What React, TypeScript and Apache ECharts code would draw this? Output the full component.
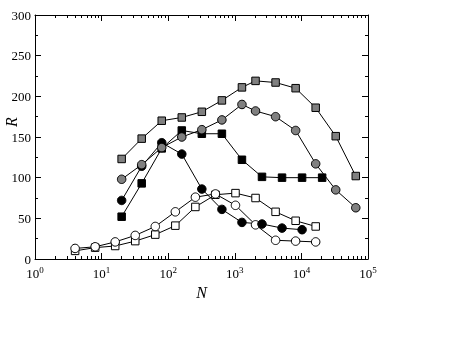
import React, { useEffect, useRef } from "react";
import * as echarts from "echarts";

const nOpen = [4, 8, 16, 32, 64, 128, 256, 512, 1024, 2048, 4096, 8192, 16384];
const rOpenSquare = [10, 14, 16, 22, 30, 41, 64, 79, 81, 75, 58, 47, 40];
const rOpenCircle = [13, 15, 21, 29, 40, 58, 76, 80, 66, 42, 23, 22, 21];

const nBlackCircle = [20, 40, 80, 160, 320, 640, 1280, 2560, 5120, 10240];
const rBlackCircle = [72, 114, 143, 129, 86, 61, 45, 43, 38, 36];

const nBlackSquare = [20, 40, 80, 160, 320, 640, 1280, 2560, 5120, 10240, 20480];
const rBlackSquare = [52, 93, 136, 158, 154, 154, 122, 101, 100, 100, 100];

const nGray = [20, 40, 80, 160, 320, 640, 1280, 2048, 4096, 8192, 16384, 32768, 65536];
const rGrayCircle = [98, 116, 137, 150, 159, 171, 190, 182, 175, 158, 117, 85, 63];
const rGraySquare = [123, 148, 170, 174, 181, 195, 211, 219, 217, 210, 186, 151, 102];

const xMajor = [1, 10, 100, 1000, 10000, 100000];
const yTicks = [0, 50, 100, 150, 200, 250, 300];

const minorX: number[] = [];
for (let d = 1; d < 100000; d *= 10) {
  for (let k = 2; k <= 9; k++) minorX.push(k * d);
}

const FONT = "'Liberation Serif', 'DejaVu Serif', serif";

const zip = (xs: number[], ys: number[]) => xs.map((x, i) => [x, ys[i]]);

export default function App() {
  const ref = useRef<HTMLDivElement>(null);
  useEffect(() => {
    const chart = echarts.init(ref.current!, null, { renderer: "svg" });
    const lineStyle = { color: "#000", width: 1 };
    const mk = (name: string, data: number[][], symbol: string, size: number, fill: string) => ({
      name,
      type: "line",
      data,
      symbol,
      symbolSize: size,
      showSymbol: true,
      lineStyle,
      itemStyle: { color: fill, borderColor: "#000", borderWidth: 1 },
      emphasis: { disabled: true },
    });
    const baseX = {
      type: "log",
      logBase: 10,
      min: 1,
      max: 100000,
      gridIndex: 0,
      splitLine: { show: false },
      axisLine: { show: true, lineStyle: { color: "#000", width: 1 } },
    };
    const baseY = {
      type: "value",
      min: 0,
      max: 300,
      interval: 50,
      splitLine: { show: false },
      axisLine: { show: true, lineStyle: { color: "#000", width: 1 } },
      axisTick: { show: true, inside: true, length: 6, lineStyle: { color: "#000" } },
      minorTick: { show: true, splitNumber: 2, length: 3, lineStyle: { color: "#000" } },
    };
    chart.setOption({
      animation: false,
      grid: { left: 35, right: 90, top: 15, bottom: 95, containLabel: false, outerBoundsMode: "none" },
      graphic: [
        {
          type: "text",
          x: 11,
          y: 122,
          rotation: Math.PI / 2,
          style: {
            text: "R",
            fontFamily: FONT,
            fontStyle: "italic",
            fontSize: 16,
            fill: "#000",
            align: "center",
            verticalAlign: "middle",
          },
        },
      ],
      xAxis: [
        {
          ...baseX,
          position: "bottom",
          name: "N",
          nameLocation: "middle",
          nameGap: 16,
          nameTextStyle: { fontFamily: FONT, fontStyle: "italic", fontSize: 16, color: "#000" },
          axisTick: { show: true, inside: true, length: 6, customValues: xMajor, lineStyle: { color: "#000" } },
          axisLabel: {
            show: true,
            customValues: xMajor,
            margin: 6,
            color: "#000",
            fontFamily: FONT,
            fontSize: 13,
            formatter: (v: number) => `10{s|${Math.round(Math.log10(v))}}`,
            rich: {
              s: { fontFamily: FONT, fontSize: 9, color: "#000", verticalAlign: "bottom", padding: [0, 0, 7, 0] },
            },
          },
        },
        {
          ...baseX,
          position: "bottom",
          axisLine: { show: false },
          axisTick: { show: true, inside: true, length: 3, customValues: minorX, lineStyle: { color: "#000" } },
          axisLabel: { show: false },
        },
        {
          ...baseX,
          position: "top",
          axisTick: { show: true, inside: true, length: 6, customValues: xMajor, lineStyle: { color: "#000" } },
          axisLabel: { show: false },
        },
        {
          ...baseX,
          position: "top",
          axisLine: { show: false },
          axisTick: { show: true, inside: true, length: 3, customValues: minorX, lineStyle: { color: "#000" } },
          axisLabel: { show: false },
        },
      ],
      yAxis: [
        {
          ...baseY,
          position: "left",
          axisLabel: {
            show: true,
            margin: 4,
            color: "#000",
            fontFamily: FONT,
            fontSize: 13,
            customValues: yTicks,
          },
        },
        {
          ...baseY,
          position: "right",
          axisLabel: { show: false },
        },
      ],
      series: [
        mk("openSquare", zip(nOpen, rOpenSquare), "rect", 7.5, "#fff"),
        mk("openCircle", zip(nOpen, rOpenCircle), "circle", 8.5, "#fff"),
        mk("blackCircle", zip(nBlackCircle, rBlackCircle), "circle", 8.5, "#000"),
        mk("blackSquare", zip(nBlackSquare, rBlackSquare), "rect", 7.5, "#000"),
        mk("grayCircle", zip(nGray, rGrayCircle), "circle", 8.5, "#808080"),
        mk("graySquare", zip(nGray, rGraySquare), "rect", 7.5, "#808080"),
      ],
    });
    return () => chart.dispose();
  }, []);
  return <div ref={ref} style={{ position: "fixed", left: 0, top: 0, width: 458, height: 354 }} />;
}
